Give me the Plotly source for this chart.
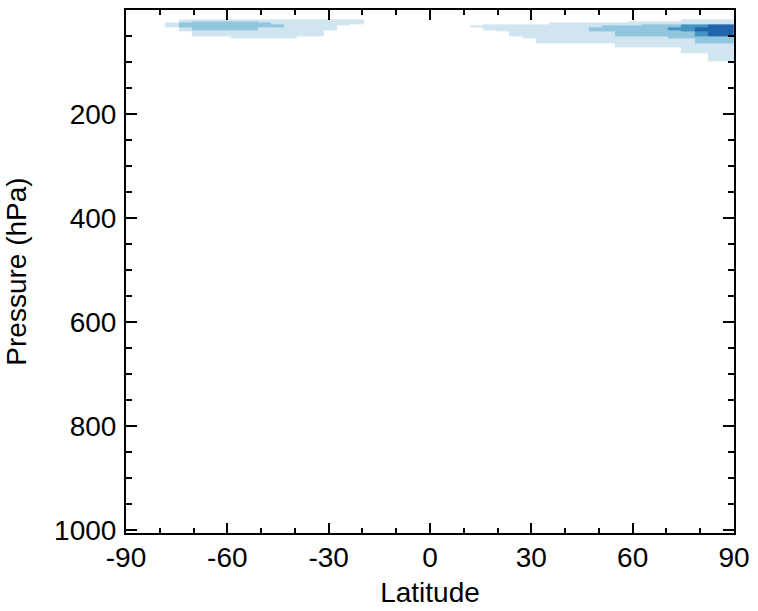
import plotly.graph_objects as go

# Latitude cell edges (degrees)
lat_edges = [-78.5, -74.5, -70.6, -58.9, -51.0, -47.1, -43.2, -39.3, -31.4, -27.5,
             -23.6, -19.7, 11.7, 15.6, 19.5, 23.4, 27.4, 31.3, 35.2, 47.0,
             50.9, 54.8, 58.7, 62.6, 70.5, 74.4, 78.3, 82.2, 90.0]
# Pressure cell edges (hPa)
p_edges = [18, 22, 24, 28, 30, 33, 39, 41, 50, 54, 64, 71, 83, 98]

# Shading class per cell (0 = blank, 1..4 = light .. dark)
level_rows = [
    [0, 1, 1, 1, 1, 1, 1, 1, 1, 1, 1, 0, 0, 0, 0, 0, 0, 0, 0, 0, 0, 0, 0, 0, 0, 1, 1, 1],
    [0, 1, 2, 2, 1, 1, 1, 1, 1, 1, 1, 0, 0, 0, 0, 0, 0, 0, 0, 0, 0, 0, 1, 1, 1, 1, 1, 1],
    [1, 2, 2, 2, 2, 1, 1, 1, 1, 1, 1, 0, 0, 0, 0, 0, 0, 0, 1, 1, 1, 1, 1, 1, 1, 1, 1, 1],
    [1, 2, 2, 2, 2, 2, 1, 1, 1, 1, 0, 0, 0, 1, 1, 1, 1, 1, 1, 1, 1, 1, 1, 2, 2, 3, 3, 4],
    [1, 2, 2, 2, 2, 2, 1, 1, 1, 0, 0, 0, 1, 1, 1, 1, 1, 1, 1, 1, 2, 2, 2, 2, 2, 3, 3, 4],
    [0, 1, 2, 2, 1, 1, 1, 1, 1, 0, 0, 0, 0, 1, 1, 1, 1, 1, 1, 2, 2, 2, 2, 2, 3, 3, 4, 4],
    [0, 1, 1, 1, 1, 1, 1, 1, 0, 0, 0, 0, 0, 0, 1, 1, 1, 1, 1, 2, 2, 2, 2, 2, 2, 3, 4, 4],
    [0, 0, 1, 1, 1, 1, 1, 1, 0, 0, 0, 0, 0, 0, 0, 1, 1, 1, 1, 1, 1, 2, 2, 2, 2, 2, 3, 4],
    [0, 0, 0, 1, 1, 1, 1, 0, 0, 0, 0, 0, 0, 0, 0, 0, 1, 1, 1, 1, 1, 1, 1, 1, 2, 2, 2, 2],
    [0, 0, 0, 0, 0, 0, 0, 0, 0, 0, 0, 0, 0, 0, 0, 0, 0, 1, 1, 1, 1, 1, 1, 1, 1, 1, 2, 2],
    [0, 0, 0, 0, 0, 0, 0, 0, 0, 0, 0, 0, 0, 0, 0, 0, 0, 0, 0, 0, 0, 1, 1, 1, 1, 1, 1, 1],
    [0, 0, 0, 0, 0, 0, 0, 0, 0, 0, 0, 0, 0, 0, 0, 0, 0, 0, 0, 0, 0, 0, 0, 0, 0, 1, 1, 1],
    [0, 0, 0, 0, 0, 0, 0, 0, 0, 0, 0, 0, 0, 0, 0, 0, 0, 0, 0, 0, 0, 0, 0, 0, 0, 0, 0, 1],
]
level_colors = ["#d1e5f0", "#92c5de", "#4393c3", "#2166ac"]

x_ticks = [-90, -60, -30, 0, 30, 60, 90]
y_ticks = [200, 400, 600, 800, 1000]

z = [[v if v > 0 else None for v in row] for row in level_rows]

cs = []
n = len(level_colors)
for i, c in enumerate(level_colors):
    cs.append([i / n, c])
    cs.append([(i + 1) / n, c])

fig = go.Figure(go.Heatmap(
    x=lat_edges, y=p_edges, z=z,
    colorscale=cs, zmin=0.5, zmax=4.5, showscale=False,
    zsmooth=False, hoverongaps=False,
))

font = dict(family="Liberation Sans, Arial, sans-serif", size=28, color="black")

fig.update_layout(
    width=758, height=611,
    margin=dict(l=126, r=18, t=8, b=75),
    paper_bgcolor="white", plot_bgcolor="white",
    font=font,
    showlegend=False,
)
fig.update_xaxes(
    range=[-90, 90], tickvals=x_ticks, ticktext=[str(v) for v in x_ticks],
    ticks="inside", ticklen=10, tickwidth=1.5, tickcolor="black",
    minor=dict(dtick=10, tick0=0, ticks="inside", ticklen=5, tickwidth=1.5, tickcolor="black"),
    showline=True, linecolor="black", linewidth=2, mirror="allticks",
    showgrid=False, zeroline=False, ticklabelstandoff=-2, ticklabeloverflow="allow",
    title=dict(text="Latitude", font=font, standoff=11),
)
fig.update_yaxes(
    range=[1005, 0], tickvals=y_ticks, ticktext=[str(v) for v in y_ticks],
    ticks="inside", ticklen=11, tickwidth=1.5, tickcolor="black",
    minor=dict(dtick=50, tick0=0, ticks="inside", ticklen=6, tickwidth=1.5, tickcolor="black"),
    showline=True, linecolor="black", linewidth=2, mirror="allticks",
    showgrid=False, zeroline=False, ticklabelstandoff=2,
    title=dict(text="Pressure (hPa)", font=font, standoff=19),
)

fig.write_html(
    "out.html",
    config={"displayModeBar": False},
    post_script="document.body.style.margin='0';document.body.style.overflow='hidden';",
)
